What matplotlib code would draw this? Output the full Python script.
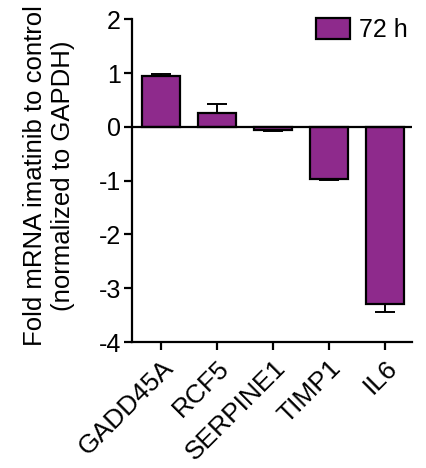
import matplotlib.pyplot as plt

plt.rcParams['font.family'] = ['Liberation Sans', 'DejaVu Sans']
plt.rcParams['axes.unicode_minus'] = False

genes = ["GADD45A", "RCF5", "SERPINE1", "TIMP1", "IL6"]
fold = [0.95, 0.26, -0.05, -0.97, -3.30]
err = [0.03, 0.16, 0.02, 0.01, 0.14]
bar_color = "#8E2A8C"

fig = plt.figure(figsize=(4.27, 4.68), dpi=100)
ax = fig.add_axes([0.309, 0.269, 0.656, 0.69])

x = list(range(len(genes)))
# error bars only in the direction of the bar
lower = [e if v < 0 else 0 for v, e in zip(fold, err)]
upper = [e if v >= 0 else 0 for v, e in zip(fold, err)]
ax.bar(x, fold, width=0.68, color=bar_color, edgecolor="black", linewidth=1.6,
       yerr=[lower, upper], capsize=7, error_kw=dict(elinewidth=1.4, capthick=1.4),
       label="72 h", zorder=2)

ax.axhline(0, color="black", linewidth=1.6, zorder=3)
ax.set_ylim(-4, 2)
ax.set_xlim(-0.52, 4.48)
ax.set_yticks([-4, -3, -2, -1, 0, 1, 2])
ax.set_xticks(x)
ax.set_xticklabels(genes, rotation=45, ha="right", rotation_mode="anchor", fontsize=19)
ax.tick_params(axis="y", labelsize=18, width=1.6, length=6, pad=2)
ax.tick_params(axis="x", width=1.6, length=6, pad=4)

for s in ["top", "right"]:
    ax.spines[s].set_visible(False)
for s in ["left", "bottom"]:
    ax.spines[s].set_linewidth(1.6)

ax.set_ylabel("Fold mRNA imatinib to control\n(normalized to GAPDH)", fontsize=18.5,
              linespacing=1.2)
ax.yaxis.set_label_coords(-0.205, 0.515)

ax.legend(loc="upper right", bbox_to_anchor=(1.02, 1.035), frameon=False, fontsize=18,
          handlelength=1.35, handleheight=0.95, handletextpad=0.35, borderaxespad=0.0)

fig.savefig("out.png", dpi=100)
